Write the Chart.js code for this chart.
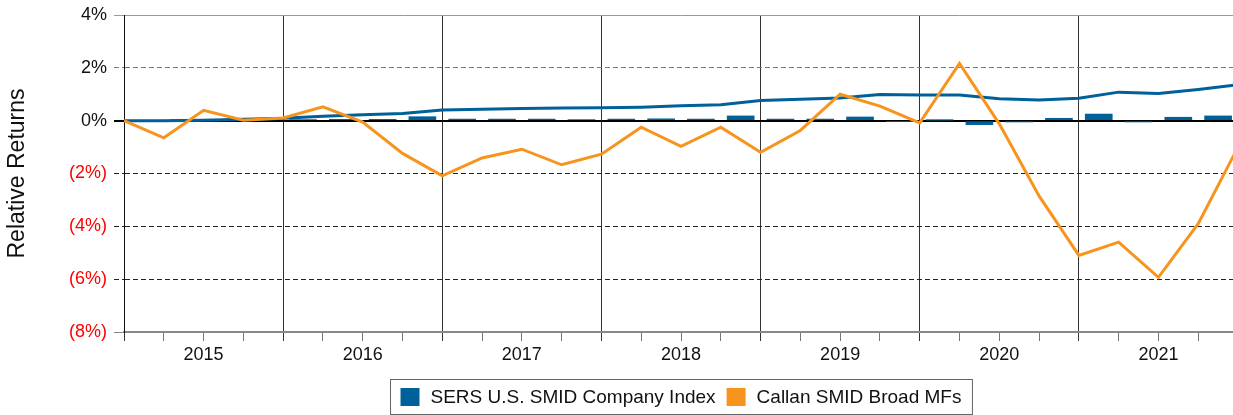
<!DOCTYPE html>
<html>
<head>
<meta charset="utf-8">
<script src="https://cdn.jsdelivr.net/npm/chart.js@4/dist/chart.umd.min.js"></script>
<style>
  html, body { margin: 0; padding: 0; background: #fff; overflow: hidden; }
  #wrap { width: 1240px; height: 415px; position: relative; }
</style>
</head>
<body>
<div id="wrap"><canvas id="chart"></canvas></div>
<script>
// Year labels, one per four quarters
const years = ['2015', '2016', '2017', '2018', '2019', '2020', '2021'];

// Cumulative relative return of the index, quarter ends from Dec 2014 to Dec 2021
const indexCumulative = [0.00, 0.00, 0.02, 0.05, 0.09, 0.17, 0.22, 0.27, 0.40, 0.43, 0.46, 0.48, 0.49, 0.51,
  0.56, 0.60, 0.76, 0.81, 0.86, 0.99, 0.97, 0.97, 0.83, 0.78, 0.85, 1.08, 1.03, 1.18, 1.36];

// Cumulative relative return of the mutual fund group, same quarter ends
const mfCumulative = [0.00, -0.65, 0.39, 0.02, 0.10, 0.52, -0.05, -1.24, -2.09, -1.41, -1.08, -1.67, -1.27,
  -0.25, -0.97, -0.25, -1.20, -0.37, 1.00, 0.55, -0.08, 2.17, -0.12, -2.85, -5.10, -4.60, -5.93, -3.90, -1.00];

// Quarterly relative return of the index (one bar per quarter)
const indexQuarterly = [0.00, 0.01, 0.02, 0.03, 0.04, 0.05, 0.05, 0.15, 0.06, 0.06, 0.06, 0.04, 0.06, 0.07,
  0.06, 0.18, 0.06, 0.06, 0.14, -0.03, 0.02, -0.15, -0.05, 0.09, 0.25, -0.05, 0.13, 0.18];

// Y axis tick values
const yTicks = [4, 2, 0, -2, -4, -6, -8];

const BLUE = '#00609a';
const ORANGE = '#f7941d';
const FONT = 'Arial, "Liberation Sans", sans-serif';

const fmtPct = v => v < 0 ? '(' + (-v) + '%)' : v + '%';

// Boxed legend centred under the plot area
const boxLegend = {
  id: 'boxLegend',
  afterDraw(chart) {
    const ctx = chart.ctx;
    const area = chart.chartArea;
    const items = chart.data.datasets
      .filter(d => d.legendRank !== undefined)
      .sort((a, b) => a.legendRank - b.legendRank);
    ctx.save();
    ctx.font = '19px ' + FONT;
    const sq = 19, gap = 11, padL = 10, padR = 11;
    let total = padL + padR;
    const widths = items.map(d => ctx.measureText(d.label).width);
    items.forEach((d, i) => { total += sq + gap + widths[i] + (i < items.length - 1 ? gap : 0); });
    const cx = (area.left + area.right) / 2;
    const left = Math.round(cx - total / 2) + 0.5;
    const top = area.bottom + 47.5;
    const h = 35;
    ctx.strokeStyle = '#666';
    ctx.lineWidth = 1;
    ctx.strokeRect(left, top, total, h);
    let x = left + padL;
    const midY = top + h / 2;
    ctx.textBaseline = 'middle';
    ctx.textAlign = 'left';
    items.forEach((d, i) => {
      ctx.fillStyle = d.backgroundColor;
      ctx.fillRect(x, midY - 9, sq, 18);
      x += sq + gap;
      ctx.fillStyle = '#111';
      ctx.fillText(d.label, x, midY + 1);
      x += widths[i] + gap;
    });
    ctx.restore();
  }
};

const yGridColor = v => {
  if (v === 0) return '#000';
  if (v === 4) return '#999';
  if (v === -8) return '#888';
  if (v === 2) return '#7a7a7a';
  return '#222';
};
const dashed = v => [2, -2, -4, -6].includes(v);

new Chart(document.getElementById('chart'), {
  type: 'bar',
  data: {
    datasets: [
      {
        type: 'line',
        label: 'Callan SMID Broad MFs',
        data: mfCumulative.map((v, i) => ({ x: i, y: v })),
        borderColor: ORANGE,
        backgroundColor: ORANGE,
        borderWidth: 3,
        pointRadius: 0,
        tension: 0,
        order: 1,
        legendRank: 2
      },
      {
        type: 'line',
        label: 'SERS U.S. SMID Company Index',
        data: indexCumulative.map((v, i) => ({ x: i, y: v })),
        borderColor: BLUE,
        backgroundColor: BLUE,
        borderWidth: 3,
        pointRadius: 0,
        tension: 0,
        order: 2
      },
      {
        type: 'bar',
        label: 'SERS U.S. SMID Company Index',
        data: indexQuarterly.map((v, i) => ({ x: i + 0.5, y: v })),
        backgroundColor: BLUE,
        barThickness: 27,
        order: 3,
        legendRank: 1
      }
    ]
  },
  options: {
    responsive: true,
    maintainAspectRatio: false,
    animation: false,
    layout: { padding: { left: 0, right: 2, top: 15, bottom: 0 } },
    plugins: {
      legend: { display: false },
      tooltip: { enabled: false }
    },
    scales: {
      x: {
        type: 'linear',
        min: 0,
        max: 28,
        offset: false,
        afterFit: s => { s.height = 83; s.paddingLeft = 0; s.paddingRight = 0; },
        afterBuildTicks: s => {
          s.ticks = Array.from({ length: 29 }, (_, i) => ({ value: i }));
        },
        ticks: {
          autoSkip: false,
          maxRotation: 0,
          minRotation: 0,
          padding: 3,
          color: '#111',
          font: { family: FONT, size: 18 },
          callback: v => (v % 4 === 2 ? years[Math.floor(v / 4)] : '')
        },
        grid: {
          offset: false,
          color: c => (c.tick && c.tick.value % 4 === 0 ? '#333' : 'rgba(0,0,0,0)'),
          tickColor: c => (c.tick && c.tick.value % 4 === 0 ? '#333' : '#777'),
          lineWidth: 1,
          tickLength: 9,
          drawTicks: true
        },
        border: { color: '#888', width: 2 }
      },
      y: {
        min: -8,
        max: 4,
        afterFit: s => { s.width = 124; s.paddingTop = 0; s.paddingBottom = 0; },
        afterBuildTicks: s => {
          s.ticks = yTicks.slice().reverse().map(v => ({ value: v }));
        },
        ticks: {
          padding: 7,
          font: { family: FONT, size: 18 },
          color: c => (c.tick && c.tick.value < 0 ? '#ff0000' : '#111'),
          callback: v => fmtPct(v)
        },
        grid: {
          color: c => yGridColor(c.tick ? c.tick.value : 0),
          tickColor: c => yGridColor(c.tick ? c.tick.value : 0),
          lineWidth: c => (c.tick && c.tick.value === 0 ? 2 : 1),
          tickWidth: c => (c.tick && c.tick.value === 0 ? 2 : 1),
          tickLength: 10,
          tickBorderDash: c => (c.tick && dashed(c.tick.value) ? [5, 3] : [])
        },
        border: {
          color: '#111',
          width: 1,
          dash: c => (c.tick && dashed(c.tick.value) ? [5, 3] : [])
        },
        title: {
          display: true,
          text: 'Relative Returns',
          color: '#111',
          font: { family: FONT, size: 23 },
          padding: { top: 4, bottom: 0 }
        }
      }
    }
  },
  plugins: [boxLegend]
});
</script>
</body>
</html>
